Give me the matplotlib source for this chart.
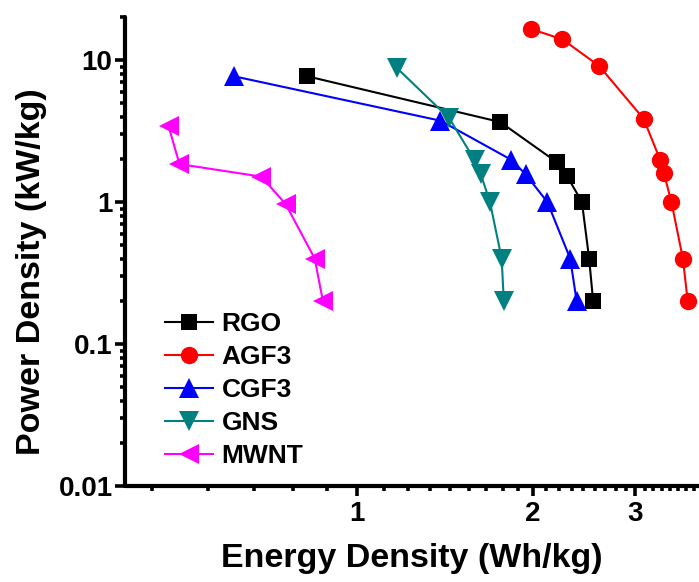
import numpy as np
import matplotlib
matplotlib.use('Agg')
import matplotlib.pyplot as plt
from matplotlib.ticker import FixedLocator, FixedFormatter, NullFormatter

# ---------------- data ----------------
rgo_e = [0.82, 1.76, 2.20, 2.29, 2.43, 2.50, 2.54]
rgo_p = [7.7, 3.66, 1.91, 1.53, 1.0, 0.40, 0.20]

agf3_e = [1.99, 2.25, 2.60, 3.10, 3.31, 3.36, 3.46, 3.62, 3.69]
agf3_p = [16.5, 14.0, 9.1, 3.86, 1.98, 1.59, 1.0, 0.40, 0.20]

cgf3_e = [0.614, 1.39, 1.84, 1.945, 2.12, 2.32, 2.38]
cgf3_p = [7.7, 3.74, 1.98, 1.57, 1.0, 0.40, 0.20]

gns_e = [1.17, 1.44, 1.59, 1.63, 1.69, 1.77, 1.785]
gns_p = [8.8, 3.88, 1.98, 1.57, 1.0, 0.40, 0.20]

mwnt_e = [0.475, 0.496, 0.685, 0.754, 0.846, 0.874]
mwnt_p = [3.43, 1.85, 1.51, 0.97, 0.40, 0.20]

series_names = ["RGO", "AGF3", "CGF3", "GNS", "MWNT"]
x_major = [1, 2, 3]
x_major_labels = ["1", "2", "3"]
y_major = [0.01, 0.1, 1, 10]
y_major_labels = ["0.01", "0.1", "1", "10"]

# ---------------- figure ----------------
plt.rcParams['font.family'] = ['Liberation Sans', 'DejaVu Sans']
plt.rcParams['font.weight'] = 'bold'

W, H = 699, 582
fig = plt.figure(figsize=(W / 100, H / 100), dpi=100)
ax_left, ax_right, ax_top, ax_bot = 125, 699, 16.7, 486
ax = fig.add_axes([ax_left / W, 1 - ax_bot / H, (ax_right - ax_left) / W, (ax_bot - ax_top) / H])

lw = 1.5
styles = [
    (rgo_e, rgo_p, 's', '#000000', 11.5),
    (agf3_e, agf3_p, 'o', '#FF0000', 12.5),
    (cgf3_e, cgf3_p, '^', '#0000FF', 14),
    (gns_e, gns_p, 'v', '#008080', 14),
    (mwnt_e, mwnt_p, '<', '#FF00FF', 14),
]
for (e, p, m, c, ms), name in zip(styles, series_names):
    ax.plot(e, p, marker=m, color=c, markersize=ms, linewidth=lw,
            markeredgewidth=0, label=name, clip_on=False)

ax.set_xscale('log')
ax.set_yscale('log')
ax.set_xlim(0.4, 3.858)
ax.set_ylim(0.01, 20.2)

# x ticks: majors at 1,2,3 ; minors every 1/9 within each unit interval
xminor = [n + k / 9 for n in range(0, 4) for k in range(1, 9)]
xminor = [v for v in xminor if 0.4 <= v <= 3.858]
ax.xaxis.set_major_locator(FixedLocator(x_major))
ax.xaxis.set_major_formatter(FixedFormatter(x_major_labels))
ax.xaxis.set_minor_locator(FixedLocator(xminor))
ax.xaxis.set_minor_formatter(NullFormatter())

yminor = [d * m for d in [0.01, 0.1, 1, 10] for m in range(2, 10)]
yminor = [v for v in yminor if v <= 20.2]
ax.yaxis.set_major_locator(FixedLocator(y_major))
ax.yaxis.set_major_formatter(FixedFormatter(y_major_labels))
ax.yaxis.set_minor_locator(FixedLocator(yminor))
ax.yaxis.set_minor_formatter(NullFormatter())

for s in ['top', 'right']:
    ax.spines[s].set_visible(False)
for s in ['left', 'bottom']:
    ax.spines[s].set_linewidth(3)
    ax.spines[s].set_capstyle('round')

ax.tick_params(axis='both', which='major', direction='out', length=7, width=2.6,
               labelsize=20, pad=2)
ax.tick_params(axis='both', which='minor', direction='out', length=3.6, width=2.6)
ax.tick_params(axis='x', which='major', pad=4)
for lab in ax.get_xticklabels() + ax.get_yticklabels():
    lab.set_fontweight('bold')

ax.set_xlabel("Energy Density (Wh/kg)", fontsize=24.5, fontweight='bold')
ax.set_ylabel("Power Density (kW/kg)", fontsize=24.5, fontweight='bold')
ax.xaxis.set_label_coords(0.5, -0.122)
ax.yaxis.set_label_coords(-0.136, 0.456)

leg = ax.legend(loc='upper left', bbox_to_anchor=((165 - ax_left) / (ax_right - ax_left), 0.370),
                frameon=False, handlelength=1.83, handletextpad=0.32,
                labelspacing=0.34, borderpad=0, borderaxespad=0, numpoints=1,
                prop={'weight': 'bold', 'size': 19})

fig.savefig('out.png', dpi=100)
